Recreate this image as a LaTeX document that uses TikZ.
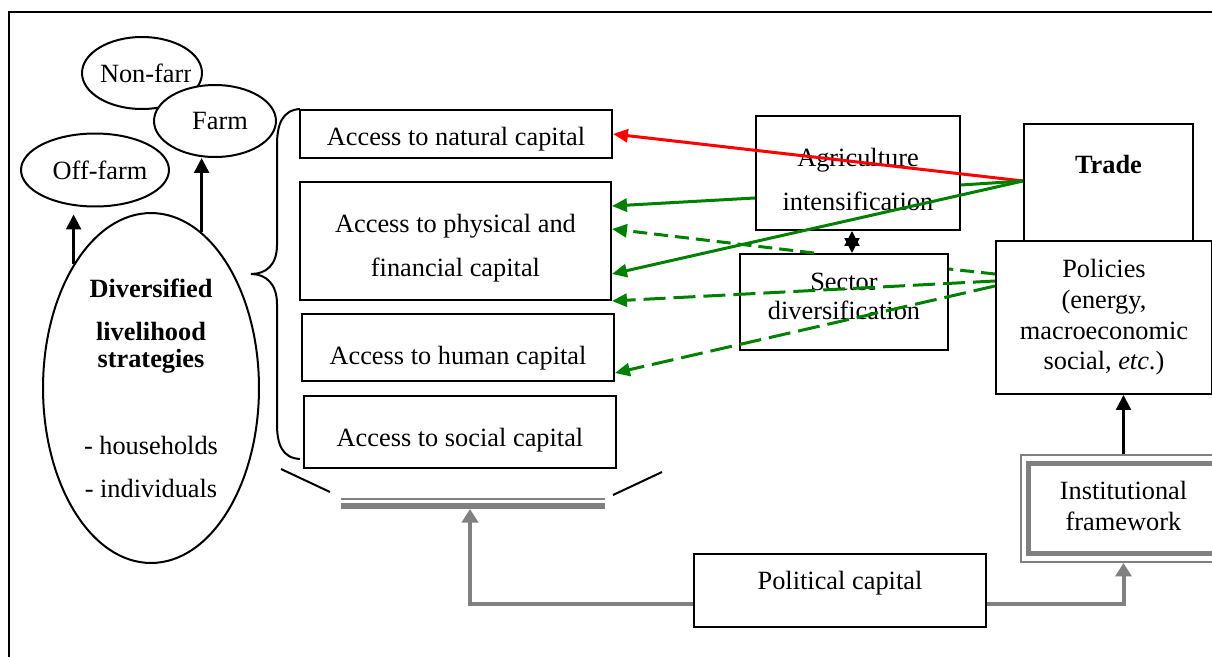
\documentclass[tikz,border=0pt]{standalone}
\usepackage{fontspec}
\setmainfont{Liberation Serif}
\usetikzlibrary{arrows.meta,shapes.geometric,calc,positioning}
\newcommand{\tall}[1]{\rule{0pt}{#1}}
\newcommand{\deep}[1]{\rule[-#1]{0pt}{0pt}}

\begin{document}
\begin{tikzpicture}[x=0.02cm, y=-0.02cm,
    box/.style={draw, line width=0.04cm, inner sep=0pt, anchor=north west},
    oval/.style={draw, ellipse, line width=0.04cm, fill=white, inner sep=0pt},
    blk/.style={-{Triangle[length=0.3cm,width=0.3cm]}, line width=0.05cm},
    grn/.style={-{Triangle[length=0.3cm,width=0.26cm]}, line width=0.06cm, green!50!black},
    gdash/.style={grn, dash pattern=on 0.28cm off 0.14cm},
    gdashl/.style={grn, dash pattern=on 0.44cm off 0.16cm},
    rdline/.style={-{Triangle[length=0.3cm,width=0.26cm]}, line width=0.06cm, red},
    dbl/.style={{Triangle[length=0.3cm,width=0.3cm]}-{Triangle[length=0.3cm,width=0.3cm]}, line width=0.04cm},
    garrow/.style={-{Triangle[length=0.27cm,width=0.32cm]}, line width=0.08cm, gray}]
  \fontsize{15}{17.5}\selectfont
  \path[use as bounding box, clip] (0,0) rectangle (1212,656);
  \draw[line width=0.04cm] (9,12) rectangle (1240,690);

  % strategies
  \node[oval, minimum width=2.4cm, minimum height=1.44cm] (nonfarm) at (142,73) {};
  \begin{scope}
    \clip (nonfarm.west |- nonfarm.north) rectangle ($(nonfarm.east |- nonfarm.south)+(-12,0)$);
    \node (nonfarmtxt) at ([xshift=0.2cm]nonfarm.center) {Non-farm};
  \end{scope}
  \node[oval, minimum width=2.44cm, minimum height=1.44cm] (farm) at (215,121) {\hspace*{0.2cm}Farm};
  \node[oval, minimum width=2.44cm, minimum height=1.46cm] (offfarm) at (95,170) {\hspace*{0.2cm}Off-farm};
  \node[oval, minimum width=4.32cm, minimum height=7cm, align=center] (div) at (151,388)
    {\textbf{Diversified}\\[7.5pt]\textbf{livelihood}\\[-2.5pt]\textbf{strategies}\\[32pt]- households\\[7pt]- individuals};
  \draw[blk, shorten >=0.14cm] (div.122) -- (div.122 |- offfarm.south);
  \draw[blk] (div.72) -- (div.72 |- farm.south);

  % brace
  \draw[line width=0.04cm] (300,109) .. controls (282,110) and (277,125) .. (277,145) -- (277,245)
    .. controls (277,265) and (266,274) .. (251,274) .. controls (266,274) and (277,284) .. (277,304)
    -- (277,424) .. controls (277,444) and (282,458) .. (300,459);

  % capitals
  \node[box, minimum width=6.24cm, text height=0.72cm, text depth=0.24cm] (natural) at (299,109) {Access to natural capital};
  \node[box, minimum width=6.22cm, minimum height=2.36cm, align=center] (physical) at (299,181) {\tall{19pt}Access to physical and\\[7.5pt]financial capital};
  \node[box, minimum width=6.24cm, text height=1.02cm, text depth=0.32cm] (human) at (301,313) {Access to human capital};
  \node[box, minimum width=6.24cm, text height=1.0cm, text depth=0.44cm] (social) at (303,395) {Access to social capital};

  \draw[line width=0.04cm] (281,469) -- (330,492);
  \draw[line width=0.04cm] (662,472) -- (613,495);
  \draw[gray, line width=0.04cm] (341,498.5) -- (605,498.5);
  \draw[gray, line width=0.12cm] (341,506) -- (605,506);
  \coordinate (bar) at (470,509);

  % drivers
  \node[box, minimum width=4.08cm, minimum height=2.28cm, align=center] (agri) at (755,115) {\tall{17.5pt}Agriculture\\[7.5pt]intensification};
  \node[box, minimum width=4.16cm, minimum height=1.92cm, align=center] (sector) at (739,253) {Sector\\[-1pt]diversification\deep{6.5pt}};
  \node[box, minimum width=3.38cm, text height=1cm, text depth=1.94cm, font=\bfseries] (trade) at (1023,123) {Trade};
  \node[box, fill=white, minimum width=4.32cm, minimum height=3.06cm, align=center] (policies) at (995,240)
    {Policies\\(energy,\\macroeconomic\\social, \textit{etc}.)};
  \node[box, minimum width=5.84cm, text height=0.7cm, text depth=0.76cm] (political) at (693,553) {Political capital};
  \node[box, draw=gray, minimum width=4.1cm, minimum height=2.14cm] (instout) at (1020,454) {};
  \node[draw=gray, line width=0.1cm, minimum width=3.8cm, minimum height=1.82cm, inner sep=0pt, align=center] (inst) at (instout.center)
    {Institutional\\framework\deep{3pt}};

  % links
  \coordinate (hub) at ([yshift=-1.16cm]trade.north west);
  \draw[rdline] (hub) -- (natural.east);
  \draw[grn, -] (hub) -- ([yshift=-0.24cm]agri.east);
  \draw[grn] (hub) -- ([yshift=-0.66cm]physical.east);
  \draw[grn] ([yshift=-0.5cm]agri.west) -- ([yshift=0.7cm]physical.east);
  \draw[gdash] ([xshift=-0.6cm]sector.north) -- ([yshift=0.24cm]physical.east);
  \draw[gdash, -] ([yshift=0.87cm]policies.west) -- ([yshift=0.66cm]sector.east);
  \draw[gdashl] ([yshift=0.73cm]policies.west) -- (physical.south east);
  \draw[gdashl] ([yshift=0.63cm]policies.west) -- ([yshift=-0.51cm]human.east);
  \draw[dbl] ([xshift=-0.12cm]agri.south) -- ([xshift=0.16cm]sector.north);
  \draw[blk] (instout.north) -- (instout.north |- policies.south);
  \draw[garrow] ([yshift=-0.27cm]political.west) -| (bar);
  \draw[garrow] ([yshift=-0.27cm]political.east) -| (instout.south);
\end{tikzpicture}
\end{document}
